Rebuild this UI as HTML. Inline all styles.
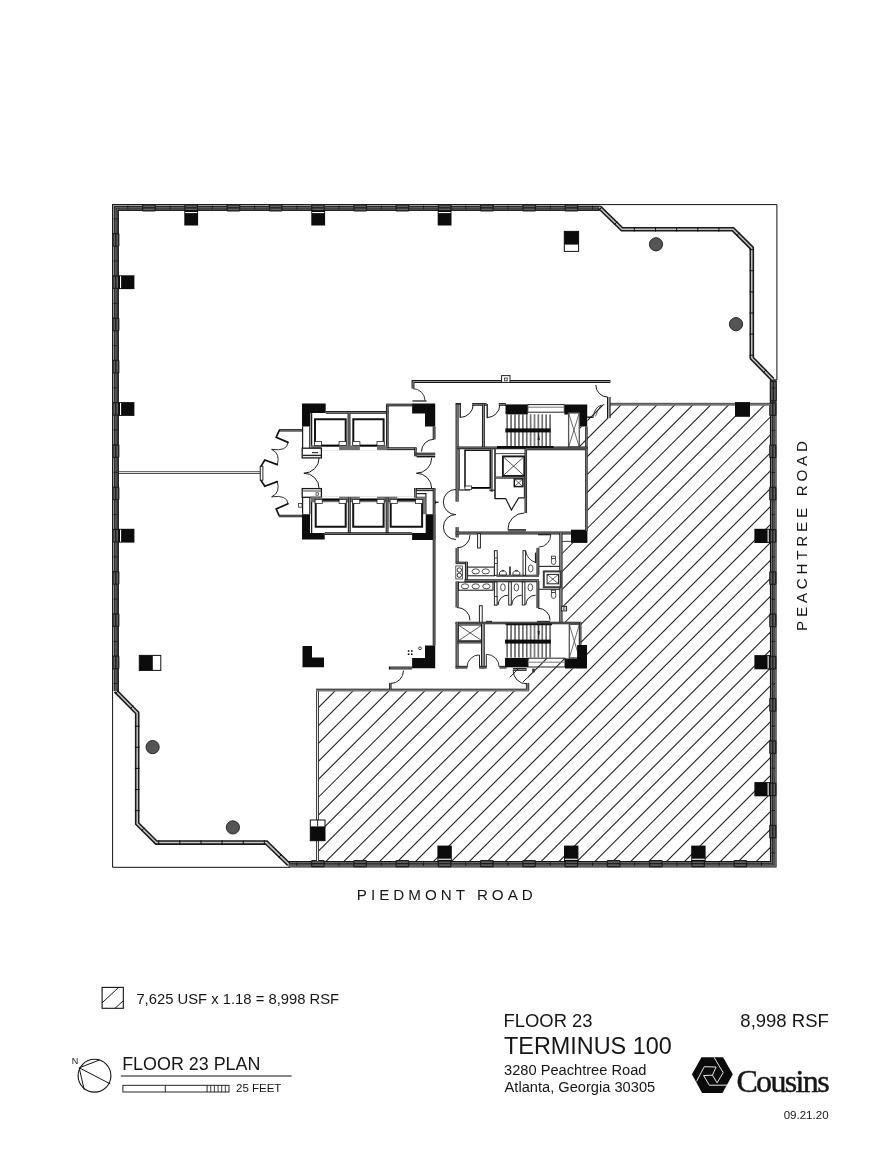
<!DOCTYPE html>
<html><head><meta charset="utf-8"><title>Floor 23 Plan - Terminus 100</title>
<style>
html,body{margin:0;padding:0;background:#fff;}
body{width:889px;height:1154px;overflow:hidden;position:relative;font-family:"Liberation Sans",sans-serif;color:#111;}
svg{position:absolute;left:0;top:0;display:block;will-change:transform;}
.t{position:absolute;white-space:nowrap;line-height:1;color:#141414;}
</style></head><body>
<svg width="889" height="1154" viewBox="0 0 889 1154" shape-rendering="geometricPrecision">
<defs><clipPath id="hc"><polygon points="610.7,404.3 770,404.3 770,861.5 318,861.5 318,690 527.6,690 527.6,658.2 565,658.2 565,668.5 587,668.5 587,645 580.5,645 580.5,622.8 562.4,622.8 562.4,543 587.4,543 587.4,448 580,448 580,426.4 587.4,426.4 587.4,404.3"/></clipPath></defs>
<g clip-path="url(#hc)" stroke="#1a1a1a" stroke-width="1.05">
<line x1="-53.36" y1="900" x2="466.64" y2="380"/>
<line x1="-35.43" y1="900" x2="484.57" y2="380"/>
<line x1="-17.49" y1="900" x2="502.51" y2="380"/>
<line x1="0.44" y1="900" x2="520.44" y2="380"/>
<line x1="18.37" y1="900" x2="538.37" y2="380"/>
<line x1="36.3" y1="900" x2="556.3" y2="380"/>
<line x1="54.24" y1="900" x2="574.24" y2="380"/>
<line x1="72.17" y1="900" x2="592.17" y2="380"/>
<line x1="90.1" y1="900" x2="610.1" y2="380"/>
<line x1="108.04" y1="900" x2="628.04" y2="380"/>
<line x1="125.97" y1="900" x2="645.97" y2="380"/>
<line x1="143.9" y1="900" x2="663.9" y2="380"/>
<line x1="161.84" y1="900" x2="681.84" y2="380"/>
<line x1="179.77" y1="900" x2="699.77" y2="380"/>
<line x1="197.7" y1="900" x2="717.7" y2="380"/>
<line x1="215.63" y1="900" x2="735.63" y2="380"/>
<line x1="233.57" y1="900" x2="753.57" y2="380"/>
<line x1="251.5" y1="900" x2="771.5" y2="380"/>
<line x1="269.43" y1="900" x2="789.43" y2="380"/>
<line x1="287.37" y1="900" x2="807.37" y2="380"/>
<line x1="305.3" y1="900" x2="825.3" y2="380"/>
<line x1="323.23" y1="900" x2="843.23" y2="380"/>
<line x1="341.17" y1="900" x2="861.17" y2="380"/>
<line x1="359.1" y1="900" x2="879.1" y2="380"/>
<line x1="377.03" y1="900" x2="897.03" y2="380"/>
<line x1="394.96" y1="900" x2="914.96" y2="380"/>
<line x1="412.9" y1="900" x2="932.9" y2="380"/>
<line x1="430.83" y1="900" x2="950.83" y2="380"/>
<line x1="448.76" y1="900" x2="968.76" y2="380"/>
<line x1="466.7" y1="900" x2="986.7" y2="380"/>
<line x1="484.63" y1="900" x2="1004.63" y2="380"/>
<line x1="502.56" y1="900" x2="1022.56" y2="380"/>
<line x1="520.5" y1="900" x2="1040.5" y2="380"/>
<line x1="538.43" y1="900" x2="1058.43" y2="380"/>
<line x1="556.36" y1="900" x2="1076.36" y2="380"/>
<line x1="574.3" y1="900" x2="1094.3" y2="380"/>
<line x1="592.23" y1="900" x2="1112.23" y2="380"/>
<line x1="610.16" y1="900" x2="1130.16" y2="380"/>
<line x1="628.09" y1="900" x2="1148.09" y2="380"/>
<line x1="646.03" y1="900" x2="1166.03" y2="380"/>
<line x1="663.96" y1="900" x2="1183.96" y2="380"/>
<line x1="681.89" y1="900" x2="1201.89" y2="380"/>
<line x1="699.83" y1="900" x2="1219.83" y2="380"/>
<line x1="717.76" y1="900" x2="1237.76" y2="380"/>
<line x1="735.69" y1="900" x2="1255.69" y2="380"/>
<line x1="753.62" y1="900" x2="1273.62" y2="380"/>
<line x1="771.56" y1="900" x2="1291.56" y2="380"/>
<line x1="789.49" y1="900" x2="1309.49" y2="380"/>
<line x1="807.42" y1="900" x2="1327.42" y2="380"/>
<line x1="825.36" y1="900" x2="1345.36" y2="380"/>
</g>
<polyline points="599,204.6 776.9,204.6 776.9,380" fill="none" stroke="#111" stroke-width="1" />
<polyline points="112.6,690 112.6,867.3 290,867.3" fill="none" stroke="#111" stroke-width="1" />
<polyline points="115.3,691 115.3,207.4 599.5,207.4" fill="none" stroke="#1c1c1c" stroke-width="6.6" stroke-linecap="butt" stroke-linejoin="miter"/>
<polyline points="115.3,691 115.3,207.4 599.5,207.4" fill="none" stroke="#9c9c9c" stroke-width="4.6" stroke-linecap="butt" stroke-linejoin="miter"/>
<polyline points="115.3,691 115.3,207.4 599.5,207.4" fill="none" stroke="#242424" stroke-width="2.7" stroke-linecap="butt" stroke-linejoin="miter"/>
<polyline points="115.3,691 115.3,207.4 599.5,207.4" fill="none" stroke="#7a7a7a" stroke-width="0.7" stroke-linecap="butt" stroke-linejoin="miter"/>
<polyline points="773.3,379 773.3,864.2 288.6,864.2" fill="none" stroke="#1c1c1c" stroke-width="6.6" stroke-linecap="butt" stroke-linejoin="miter"/>
<polyline points="773.3,379 773.3,864.2 288.6,864.2" fill="none" stroke="#9c9c9c" stroke-width="4.6" stroke-linecap="butt" stroke-linejoin="miter"/>
<polyline points="773.3,379 773.3,864.2 288.6,864.2" fill="none" stroke="#242424" stroke-width="2.7" stroke-linecap="butt" stroke-linejoin="miter"/>
<polyline points="773.3,379 773.3,864.2 288.6,864.2" fill="none" stroke="#7a7a7a" stroke-width="0.7" stroke-linecap="butt" stroke-linejoin="miter"/>
<polyline points="118.1,691 118.1,210.1 599.5,210.1" fill="none" stroke="#141414" stroke-width="1.4" />
<polyline points="770.6,379 770.6,861.6 288.6,861.6" fill="none" stroke="#141414" stroke-width="1.4" />
<rect x="142.05" y="204.3" width="13.8" height="7.2" rx="1.3" fill="#1e1e1e"/>
<rect x="143.35" y="205.5" width="11.2" height="1.7" fill="#5c5c5c"/>
<rect x="143.35" y="208.5" width="11.2" height="1.7" fill="#5c5c5c"/>
<rect x="184.3" y="204.3" width="13.8" height="7.2" rx="1.3" fill="#1e1e1e"/>
<rect x="185.6" y="205.5" width="11.2" height="1.7" fill="#5c5c5c"/>
<rect x="185.6" y="208.5" width="11.2" height="1.7" fill="#5c5c5c"/>
<rect x="226.55" y="204.3" width="13.8" height="7.2" rx="1.3" fill="#1e1e1e"/>
<rect x="227.85" y="205.5" width="11.2" height="1.7" fill="#5c5c5c"/>
<rect x="227.85" y="208.5" width="11.2" height="1.7" fill="#5c5c5c"/>
<rect x="268.8" y="204.3" width="13.8" height="7.2" rx="1.3" fill="#1e1e1e"/>
<rect x="270.1" y="205.5" width="11.2" height="1.7" fill="#5c5c5c"/>
<rect x="270.1" y="208.5" width="11.2" height="1.7" fill="#5c5c5c"/>
<rect x="311.05" y="204.3" width="13.8" height="7.2" rx="1.3" fill="#1e1e1e"/>
<rect x="312.35" y="205.5" width="11.2" height="1.7" fill="#5c5c5c"/>
<rect x="312.35" y="208.5" width="11.2" height="1.7" fill="#5c5c5c"/>
<rect x="353.3" y="204.3" width="13.8" height="7.2" rx="1.3" fill="#1e1e1e"/>
<rect x="354.6" y="205.5" width="11.2" height="1.7" fill="#5c5c5c"/>
<rect x="354.6" y="208.5" width="11.2" height="1.7" fill="#5c5c5c"/>
<rect x="395.55" y="204.3" width="13.8" height="7.2" rx="1.3" fill="#1e1e1e"/>
<rect x="396.85" y="205.5" width="11.2" height="1.7" fill="#5c5c5c"/>
<rect x="396.85" y="208.5" width="11.2" height="1.7" fill="#5c5c5c"/>
<rect x="437.8" y="204.3" width="13.8" height="7.2" rx="1.3" fill="#1e1e1e"/>
<rect x="439.1" y="205.5" width="11.2" height="1.7" fill="#5c5c5c"/>
<rect x="439.1" y="208.5" width="11.2" height="1.7" fill="#5c5c5c"/>
<rect x="480.05" y="204.3" width="13.8" height="7.2" rx="1.3" fill="#1e1e1e"/>
<rect x="481.35" y="205.5" width="11.2" height="1.7" fill="#5c5c5c"/>
<rect x="481.35" y="208.5" width="11.2" height="1.7" fill="#5c5c5c"/>
<rect x="522.3" y="204.3" width="13.8" height="7.2" rx="1.3" fill="#1e1e1e"/>
<rect x="523.6" y="205.5" width="11.2" height="1.7" fill="#5c5c5c"/>
<rect x="523.6" y="208.5" width="11.2" height="1.7" fill="#5c5c5c"/>
<rect x="564.55" y="204.3" width="13.8" height="7.2" rx="1.3" fill="#1e1e1e"/>
<rect x="565.85" y="205.5" width="11.2" height="1.7" fill="#5c5c5c"/>
<rect x="565.85" y="208.5" width="11.2" height="1.7" fill="#5c5c5c"/>
<rect x="112.2" y="233.05" width="7.2" height="13.8" rx="1.3" fill="#1e1e1e"/>
<rect x="113.4" y="234.35" width="1.7" height="11.2" fill="#5c5c5c"/>
<rect x="116.4" y="234.35" width="1.7" height="11.2" fill="#5c5c5c"/>
<rect x="112.2" y="275.3" width="7.2" height="13.8" rx="1.3" fill="#1e1e1e"/>
<rect x="113.4" y="276.6" width="1.7" height="11.2" fill="#5c5c5c"/>
<rect x="116.4" y="276.6" width="1.7" height="11.2" fill="#5c5c5c"/>
<rect x="112.2" y="317.55" width="7.2" height="13.8" rx="1.3" fill="#1e1e1e"/>
<rect x="113.4" y="318.85" width="1.7" height="11.2" fill="#5c5c5c"/>
<rect x="116.4" y="318.85" width="1.7" height="11.2" fill="#5c5c5c"/>
<rect x="112.2" y="359.8" width="7.2" height="13.8" rx="1.3" fill="#1e1e1e"/>
<rect x="113.4" y="361.1" width="1.7" height="11.2" fill="#5c5c5c"/>
<rect x="116.4" y="361.1" width="1.7" height="11.2" fill="#5c5c5c"/>
<rect x="112.2" y="402.05" width="7.2" height="13.8" rx="1.3" fill="#1e1e1e"/>
<rect x="113.4" y="403.35" width="1.7" height="11.2" fill="#5c5c5c"/>
<rect x="116.4" y="403.35" width="1.7" height="11.2" fill="#5c5c5c"/>
<rect x="112.2" y="444.3" width="7.2" height="13.8" rx="1.3" fill="#1e1e1e"/>
<rect x="113.4" y="445.6" width="1.7" height="11.2" fill="#5c5c5c"/>
<rect x="116.4" y="445.6" width="1.7" height="11.2" fill="#5c5c5c"/>
<rect x="112.2" y="486.55" width="7.2" height="13.8" rx="1.3" fill="#1e1e1e"/>
<rect x="113.4" y="487.85" width="1.7" height="11.2" fill="#5c5c5c"/>
<rect x="116.4" y="487.85" width="1.7" height="11.2" fill="#5c5c5c"/>
<rect x="112.2" y="528.8" width="7.2" height="13.8" rx="1.3" fill="#1e1e1e"/>
<rect x="113.4" y="530.1" width="1.7" height="11.2" fill="#5c5c5c"/>
<rect x="116.4" y="530.1" width="1.7" height="11.2" fill="#5c5c5c"/>
<rect x="112.2" y="571.05" width="7.2" height="13.8" rx="1.3" fill="#1e1e1e"/>
<rect x="113.4" y="572.35" width="1.7" height="11.2" fill="#5c5c5c"/>
<rect x="116.4" y="572.35" width="1.7" height="11.2" fill="#5c5c5c"/>
<rect x="112.2" y="613.3" width="7.2" height="13.8" rx="1.3" fill="#1e1e1e"/>
<rect x="113.4" y="614.6" width="1.7" height="11.2" fill="#5c5c5c"/>
<rect x="116.4" y="614.6" width="1.7" height="11.2" fill="#5c5c5c"/>
<rect x="112.2" y="655.55" width="7.2" height="13.8" rx="1.3" fill="#1e1e1e"/>
<rect x="113.4" y="656.85" width="1.7" height="11.2" fill="#5c5c5c"/>
<rect x="116.4" y="656.85" width="1.7" height="11.2" fill="#5c5c5c"/>
<rect x="769.2" y="402.25" width="7.2" height="13.8" rx="1.3" fill="#1e1e1e"/>
<rect x="770.4" y="403.55" width="1.7" height="11.2" fill="#5c5c5c"/>
<rect x="773.4" y="403.55" width="1.7" height="11.2" fill="#5c5c5c"/>
<rect x="769.2" y="444.5" width="7.2" height="13.8" rx="1.3" fill="#1e1e1e"/>
<rect x="770.4" y="445.8" width="1.7" height="11.2" fill="#5c5c5c"/>
<rect x="773.4" y="445.8" width="1.7" height="11.2" fill="#5c5c5c"/>
<rect x="769.2" y="486.75" width="7.2" height="13.8" rx="1.3" fill="#1e1e1e"/>
<rect x="770.4" y="488.05" width="1.7" height="11.2" fill="#5c5c5c"/>
<rect x="773.4" y="488.05" width="1.7" height="11.2" fill="#5c5c5c"/>
<rect x="769.2" y="529" width="7.2" height="13.8" rx="1.3" fill="#1e1e1e"/>
<rect x="770.4" y="530.3" width="1.7" height="11.2" fill="#5c5c5c"/>
<rect x="773.4" y="530.3" width="1.7" height="11.2" fill="#5c5c5c"/>
<rect x="769.2" y="571.25" width="7.2" height="13.8" rx="1.3" fill="#1e1e1e"/>
<rect x="770.4" y="572.55" width="1.7" height="11.2" fill="#5c5c5c"/>
<rect x="773.4" y="572.55" width="1.7" height="11.2" fill="#5c5c5c"/>
<rect x="769.2" y="613.5" width="7.2" height="13.8" rx="1.3" fill="#1e1e1e"/>
<rect x="770.4" y="614.8" width="1.7" height="11.2" fill="#5c5c5c"/>
<rect x="773.4" y="614.8" width="1.7" height="11.2" fill="#5c5c5c"/>
<rect x="769.2" y="655.75" width="7.2" height="13.8" rx="1.3" fill="#1e1e1e"/>
<rect x="770.4" y="657.05" width="1.7" height="11.2" fill="#5c5c5c"/>
<rect x="773.4" y="657.05" width="1.7" height="11.2" fill="#5c5c5c"/>
<rect x="769.2" y="698" width="7.2" height="13.8" rx="1.3" fill="#1e1e1e"/>
<rect x="770.4" y="699.3" width="1.7" height="11.2" fill="#5c5c5c"/>
<rect x="773.4" y="699.3" width="1.7" height="11.2" fill="#5c5c5c"/>
<rect x="769.2" y="740.25" width="7.2" height="13.8" rx="1.3" fill="#1e1e1e"/>
<rect x="770.4" y="741.55" width="1.7" height="11.2" fill="#5c5c5c"/>
<rect x="773.4" y="741.55" width="1.7" height="11.2" fill="#5c5c5c"/>
<rect x="769.2" y="782.5" width="7.2" height="13.8" rx="1.3" fill="#1e1e1e"/>
<rect x="770.4" y="783.8" width="1.7" height="11.2" fill="#5c5c5c"/>
<rect x="773.4" y="783.8" width="1.7" height="11.2" fill="#5c5c5c"/>
<rect x="769.2" y="824.75" width="7.2" height="13.8" rx="1.3" fill="#1e1e1e"/>
<rect x="770.4" y="826.05" width="1.7" height="11.2" fill="#5c5c5c"/>
<rect x="773.4" y="826.05" width="1.7" height="11.2" fill="#5c5c5c"/>
<rect x="310.95" y="860.1" width="13.8" height="7.2" rx="1.3" fill="#1e1e1e"/>
<rect x="312.25" y="861.3" width="11.2" height="1.7" fill="#5c5c5c"/>
<rect x="312.25" y="864.3" width="11.2" height="1.7" fill="#5c5c5c"/>
<rect x="353.2" y="860.1" width="13.8" height="7.2" rx="1.3" fill="#1e1e1e"/>
<rect x="354.5" y="861.3" width="11.2" height="1.7" fill="#5c5c5c"/>
<rect x="354.5" y="864.3" width="11.2" height="1.7" fill="#5c5c5c"/>
<rect x="395.45" y="860.1" width="13.8" height="7.2" rx="1.3" fill="#1e1e1e"/>
<rect x="396.75" y="861.3" width="11.2" height="1.7" fill="#5c5c5c"/>
<rect x="396.75" y="864.3" width="11.2" height="1.7" fill="#5c5c5c"/>
<rect x="437.7" y="860.1" width="13.8" height="7.2" rx="1.3" fill="#1e1e1e"/>
<rect x="439" y="861.3" width="11.2" height="1.7" fill="#5c5c5c"/>
<rect x="439" y="864.3" width="11.2" height="1.7" fill="#5c5c5c"/>
<rect x="479.95" y="860.1" width="13.8" height="7.2" rx="1.3" fill="#1e1e1e"/>
<rect x="481.25" y="861.3" width="11.2" height="1.7" fill="#5c5c5c"/>
<rect x="481.25" y="864.3" width="11.2" height="1.7" fill="#5c5c5c"/>
<rect x="522.2" y="860.1" width="13.8" height="7.2" rx="1.3" fill="#1e1e1e"/>
<rect x="523.5" y="861.3" width="11.2" height="1.7" fill="#5c5c5c"/>
<rect x="523.5" y="864.3" width="11.2" height="1.7" fill="#5c5c5c"/>
<rect x="564.45" y="860.1" width="13.8" height="7.2" rx="1.3" fill="#1e1e1e"/>
<rect x="565.75" y="861.3" width="11.2" height="1.7" fill="#5c5c5c"/>
<rect x="565.75" y="864.3" width="11.2" height="1.7" fill="#5c5c5c"/>
<rect x="606.7" y="860.1" width="13.8" height="7.2" rx="1.3" fill="#1e1e1e"/>
<rect x="608" y="861.3" width="11.2" height="1.7" fill="#5c5c5c"/>
<rect x="608" y="864.3" width="11.2" height="1.7" fill="#5c5c5c"/>
<rect x="648.95" y="860.1" width="13.8" height="7.2" rx="1.3" fill="#1e1e1e"/>
<rect x="650.25" y="861.3" width="11.2" height="1.7" fill="#5c5c5c"/>
<rect x="650.25" y="864.3" width="11.2" height="1.7" fill="#5c5c5c"/>
<rect x="691.2" y="860.1" width="13.8" height="7.2" rx="1.3" fill="#1e1e1e"/>
<rect x="692.5" y="861.3" width="11.2" height="1.7" fill="#5c5c5c"/>
<rect x="692.5" y="864.3" width="11.2" height="1.7" fill="#5c5c5c"/>
<rect x="733.45" y="860.1" width="13.8" height="7.2" rx="1.3" fill="#1e1e1e"/>
<rect x="734.75" y="861.3" width="11.2" height="1.7" fill="#5c5c5c"/>
<rect x="734.75" y="864.3" width="11.2" height="1.7" fill="#5c5c5c"/>
<rect x="769.8" y="380.5" width="7.0" height="21" rx="1.2" fill="#1e1e1e"/>
<rect x="771" y="382" width="1.7" height="18" fill="#5c5c5c"/>
<rect x="774" y="382" width="1.7" height="18" fill="#5c5c5c"/>
<line x1="127.82" y1="205.6" x2="127.82" y2="209.2" stroke="#111" stroke-width="0.8" />
<line x1="113.5" y1="218.82" x2="117.1" y2="218.82" stroke="#111" stroke-width="0.8" />
<line x1="170.07" y1="205.6" x2="170.07" y2="209.2" stroke="#111" stroke-width="0.8" />
<line x1="113.5" y1="261.07" x2="117.1" y2="261.07" stroke="#111" stroke-width="0.8" />
<line x1="771.5" y1="388.02" x2="775.1" y2="388.02" stroke="#111" stroke-width="0.8" />
<line x1="296.73" y1="862.4" x2="296.73" y2="866" stroke="#111" stroke-width="0.8" />
<line x1="212.32" y1="205.6" x2="212.32" y2="209.2" stroke="#111" stroke-width="0.8" />
<line x1="113.5" y1="303.32" x2="117.1" y2="303.32" stroke="#111" stroke-width="0.8" />
<line x1="771.5" y1="430.27" x2="775.1" y2="430.27" stroke="#111" stroke-width="0.8" />
<line x1="338.98" y1="862.4" x2="338.98" y2="866" stroke="#111" stroke-width="0.8" />
<line x1="254.57" y1="205.6" x2="254.57" y2="209.2" stroke="#111" stroke-width="0.8" />
<line x1="113.5" y1="345.57" x2="117.1" y2="345.57" stroke="#111" stroke-width="0.8" />
<line x1="771.5" y1="472.52" x2="775.1" y2="472.52" stroke="#111" stroke-width="0.8" />
<line x1="381.23" y1="862.4" x2="381.23" y2="866" stroke="#111" stroke-width="0.8" />
<line x1="296.82" y1="205.6" x2="296.82" y2="209.2" stroke="#111" stroke-width="0.8" />
<line x1="113.5" y1="387.82" x2="117.1" y2="387.82" stroke="#111" stroke-width="0.8" />
<line x1="771.5" y1="514.77" x2="775.1" y2="514.77" stroke="#111" stroke-width="0.8" />
<line x1="423.48" y1="862.4" x2="423.48" y2="866" stroke="#111" stroke-width="0.8" />
<line x1="339.07" y1="205.6" x2="339.07" y2="209.2" stroke="#111" stroke-width="0.8" />
<line x1="113.5" y1="430.07" x2="117.1" y2="430.07" stroke="#111" stroke-width="0.8" />
<line x1="771.5" y1="557.02" x2="775.1" y2="557.02" stroke="#111" stroke-width="0.8" />
<line x1="465.73" y1="862.4" x2="465.73" y2="866" stroke="#111" stroke-width="0.8" />
<line x1="381.32" y1="205.6" x2="381.32" y2="209.2" stroke="#111" stroke-width="0.8" />
<line x1="113.5" y1="472.32" x2="117.1" y2="472.32" stroke="#111" stroke-width="0.8" />
<line x1="771.5" y1="599.27" x2="775.1" y2="599.27" stroke="#111" stroke-width="0.8" />
<line x1="507.98" y1="862.4" x2="507.98" y2="866" stroke="#111" stroke-width="0.8" />
<line x1="423.57" y1="205.6" x2="423.57" y2="209.2" stroke="#111" stroke-width="0.8" />
<line x1="113.5" y1="514.58" x2="117.1" y2="514.58" stroke="#111" stroke-width="0.8" />
<line x1="771.5" y1="641.52" x2="775.1" y2="641.52" stroke="#111" stroke-width="0.8" />
<line x1="550.23" y1="862.4" x2="550.23" y2="866" stroke="#111" stroke-width="0.8" />
<line x1="465.82" y1="205.6" x2="465.82" y2="209.2" stroke="#111" stroke-width="0.8" />
<line x1="113.5" y1="556.83" x2="117.1" y2="556.83" stroke="#111" stroke-width="0.8" />
<line x1="771.5" y1="683.77" x2="775.1" y2="683.77" stroke="#111" stroke-width="0.8" />
<line x1="592.48" y1="862.4" x2="592.48" y2="866" stroke="#111" stroke-width="0.8" />
<line x1="508.07" y1="205.6" x2="508.07" y2="209.2" stroke="#111" stroke-width="0.8" />
<line x1="113.5" y1="599.08" x2="117.1" y2="599.08" stroke="#111" stroke-width="0.8" />
<line x1="771.5" y1="726.02" x2="775.1" y2="726.02" stroke="#111" stroke-width="0.8" />
<line x1="634.73" y1="862.4" x2="634.73" y2="866" stroke="#111" stroke-width="0.8" />
<line x1="550.33" y1="205.6" x2="550.33" y2="209.2" stroke="#111" stroke-width="0.8" />
<line x1="113.5" y1="641.33" x2="117.1" y2="641.33" stroke="#111" stroke-width="0.8" />
<line x1="771.5" y1="768.27" x2="775.1" y2="768.27" stroke="#111" stroke-width="0.8" />
<line x1="676.98" y1="862.4" x2="676.98" y2="866" stroke="#111" stroke-width="0.8" />
<line x1="592.58" y1="205.6" x2="592.58" y2="209.2" stroke="#111" stroke-width="0.8" />
<line x1="113.5" y1="683.58" x2="117.1" y2="683.58" stroke="#111" stroke-width="0.8" />
<line x1="771.5" y1="810.52" x2="775.1" y2="810.52" stroke="#111" stroke-width="0.8" />
<line x1="719.23" y1="862.4" x2="719.23" y2="866" stroke="#111" stroke-width="0.8" />
<line x1="771.5" y1="852.77" x2="775.1" y2="852.77" stroke="#111" stroke-width="0.8" />
<line x1="761.48" y1="862.4" x2="761.48" y2="866" stroke="#111" stroke-width="0.8" />
<polyline points="599.3,207.2 622.1,229.3 733,229.3 751.8,248 751.8,358 772.8,379.5" fill="none" stroke="#1a1a1a" stroke-width="4.6" stroke-linecap="butt" stroke-linejoin="miter"/>
<polyline points="599.3,207.2 622.1,229.3 733,229.3 751.8,248 751.8,358 772.8,379.5" fill="none" stroke="#c4c4c4" stroke-width="1.5" stroke-linecap="butt" stroke-linejoin="miter"/>
<line x1="598.99" y1="210.1" x2="602.19" y2="206.8" stroke="#111" stroke-width="1" />
<line x1="614.16" y1="224.81" x2="617.36" y2="221.5" stroke="#111" stroke-width="1" />
<line x1="634.4" y1="231.6" x2="634.4" y2="227" stroke="#111" stroke-width="1" />
<line x1="655.52" y1="231.6" x2="655.52" y2="227" stroke="#111" stroke-width="1" />
<line x1="676.65" y1="231.6" x2="676.65" y2="227" stroke="#111" stroke-width="1" />
<line x1="697.77" y1="231.6" x2="697.77" y2="227" stroke="#111" stroke-width="1" />
<line x1="718.9" y1="231.6" x2="718.9" y2="227" stroke="#111" stroke-width="1" />
<line x1="736.36" y1="235.88" x2="739.6" y2="232.62" stroke="#111" stroke-width="1" />
<line x1="749.5" y1="249.63" x2="754.1" y2="249.63" stroke="#111" stroke-width="1" />
<line x1="749.5" y1="270.76" x2="754.1" y2="270.76" stroke="#111" stroke-width="1" />
<line x1="749.5" y1="291.88" x2="754.1" y2="291.88" stroke="#111" stroke-width="1" />
<line x1="749.5" y1="313.01" x2="754.1" y2="313.01" stroke="#111" stroke-width="1" />
<line x1="749.5" y1="334.13" x2="754.1" y2="334.13" stroke="#111" stroke-width="1" />
<line x1="749.5" y1="355.26" x2="754.1" y2="355.26" stroke="#111" stroke-width="1" />
<line x1="763" y1="372.76" x2="766.29" y2="369.54" stroke="#111" stroke-width="1" />
<polyline points="115.5,690.8 137.2,712.9 137.2,823.6 156.4,842.6 266.4,842.6 288.8,864.4" fill="none" stroke="#1a1a1a" stroke-width="4.6" stroke-linecap="butt" stroke-linejoin="miter"/>
<polyline points="115.5,690.8 137.2,712.9 137.2,823.6 156.4,842.6 266.4,842.6 288.8,864.4" fill="none" stroke="#c4c4c4" stroke-width="1.5" stroke-linecap="butt" stroke-linejoin="miter"/>
<line x1="115.26" y1="693.84" x2="118.54" y2="690.62" stroke="#111" stroke-width="1" />
<line x1="130.06" y1="708.91" x2="133.34" y2="705.69" stroke="#111" stroke-width="1" />
<line x1="134.9" y1="726.18" x2="139.5" y2="726.18" stroke="#111" stroke-width="1" />
<line x1="134.9" y1="747.3" x2="139.5" y2="747.3" stroke="#111" stroke-width="1" />
<line x1="134.9" y1="768.43" x2="139.5" y2="768.43" stroke="#111" stroke-width="1" />
<line x1="134.9" y1="789.55" x2="139.5" y2="789.55" stroke="#111" stroke-width="1" />
<line x1="134.9" y1="810.68" x2="139.5" y2="810.68" stroke="#111" stroke-width="1" />
<line x1="141.41" y1="831" x2="144.65" y2="827.73" stroke="#111" stroke-width="1" />
<line x1="158.72" y1="844.9" x2="158.72" y2="840.3" stroke="#111" stroke-width="1" />
<line x1="179.84" y1="844.9" x2="179.84" y2="840.3" stroke="#111" stroke-width="1" />
<line x1="200.97" y1="844.9" x2="200.97" y2="840.3" stroke="#111" stroke-width="1" />
<line x1="222.09" y1="844.9" x2="222.09" y2="840.3" stroke="#111" stroke-width="1" />
<line x1="243.22" y1="844.9" x2="243.22" y2="840.3" stroke="#111" stroke-width="1" />
<line x1="264.34" y1="844.9" x2="264.34" y2="840.3" stroke="#111" stroke-width="1" />
<line x1="278.46" y1="857.55" x2="281.67" y2="854.25" stroke="#111" stroke-width="1" />
<line x1="610" y1="404.4" x2="770" y2="404.4" stroke="#757575" stroke-width="2.5" />
<line x1="610" y1="403.3" x2="770" y2="403.3" stroke="#2a2a2a" stroke-width="0.7" />
<polyline points="317.5,861 317.5,689" fill="none" stroke="#222" stroke-width="2.9" stroke-linecap="butt" stroke-linejoin="miter"/>
<polyline points="317.5,861 317.5,689" fill="none" stroke="#ececec" stroke-width="1.2" stroke-linecap="butt" stroke-linejoin="miter"/>
<polyline points="316,690.2 527.6,690.2 527.6,682.9" fill="none" stroke="#7c7c7c" stroke-width="2.6" />
<polyline points="316,689.1 526.4,689.1 526.4,682.9" fill="none" stroke="#1c1c1c" stroke-width="0.8" />
<line x1="528.8" y1="690.5" x2="528.8" y2="682.9" stroke="#1c1c1c" stroke-width="0.8" />
<line x1="118.6" y1="471.7" x2="260.4" y2="471.7" stroke="#222" stroke-width="0.8" />
<line x1="118.6" y1="473.5" x2="260.4" y2="473.5" stroke="#222" stroke-width="0.8" />
<rect x="184.3" y="210.4" width="13.8" height="15.1" fill="#0c0c0c" stroke="none" stroke-width="0"/>
<rect x="185.2" y="212" width="12" height="1.1" fill="#fff" stroke="none" stroke-width="0"/>
<rect x="311.3" y="210.4" width="13.8" height="15.1" fill="#0c0c0c" stroke="none" stroke-width="0"/>
<rect x="312.2" y="212" width="12" height="1.1" fill="#fff" stroke="none" stroke-width="0"/>
<rect x="437.7" y="210.4" width="13.8" height="15.1" fill="#0c0c0c" stroke="none" stroke-width="0"/>
<rect x="438.6" y="212" width="12" height="1.1" fill="#fff" stroke="none" stroke-width="0"/>
<rect x="437.4" y="845.6" width="14.4" height="15.8" fill="#0c0c0c" stroke="none" stroke-width="0"/>
<rect x="438.3" y="858.7" width="12.6" height="1.1" fill="#fff" stroke="none" stroke-width="0"/>
<rect x="564" y="845.6" width="14.4" height="15.8" fill="#0c0c0c" stroke="none" stroke-width="0"/>
<rect x="564.9" y="858.7" width="12.6" height="1.1" fill="#fff" stroke="none" stroke-width="0"/>
<rect x="691.2" y="845.6" width="14.4" height="15.8" fill="#0c0c0c" stroke="none" stroke-width="0"/>
<rect x="692.1" y="858.7" width="12.6" height="1.1" fill="#fff" stroke="none" stroke-width="0"/>
<rect x="118.4" y="275.3" width="16" height="13.8" fill="#0c0c0c" stroke="none" stroke-width="0"/>
<rect x="120" y="276.2" width="1.1" height="12" fill="#fff" stroke="none" stroke-width="0"/>
<rect x="118.4" y="402.1" width="16" height="13.8" fill="#0c0c0c" stroke="none" stroke-width="0"/>
<rect x="120" y="403" width="1.1" height="12" fill="#fff" stroke="none" stroke-width="0"/>
<rect x="118.4" y="528.8" width="16" height="13.8" fill="#0c0c0c" stroke="none" stroke-width="0"/>
<rect x="120" y="529.7" width="1.1" height="12" fill="#fff" stroke="none" stroke-width="0"/>
<rect x="754.4" y="528.8" width="16" height="14.2" fill="#0c0c0c" stroke="none" stroke-width="0"/>
<rect x="767.6" y="529.7" width="1.1" height="12.4" fill="#fff" stroke="none" stroke-width="0"/>
<rect x="754.4" y="655.1" width="16" height="14.2" fill="#0c0c0c" stroke="none" stroke-width="0"/>
<rect x="767.6" y="656" width="1.1" height="12.4" fill="#fff" stroke="none" stroke-width="0"/>
<rect x="754.4" y="782.1" width="16" height="14.2" fill="#0c0c0c" stroke="none" stroke-width="0"/>
<rect x="767.6" y="783" width="1.1" height="12.4" fill="#fff" stroke="none" stroke-width="0"/>
<rect x="564.3" y="231.4" width="14.3" height="20" fill="#fff" stroke="#111" stroke-width="1"/>
<rect x="564.3" y="231.4" width="14.3" height="13.2" fill="#0c0c0c" stroke="none" stroke-width="0"/>
<rect x="735" y="402.1" width="15" height="14.7" fill="#0c0c0c" stroke="none" stroke-width="0"/>
<rect x="310.3" y="820" width="14.7" height="20.7" fill="#fff" stroke="#111" stroke-width="1"/>
<rect x="310.3" y="826.4" width="14.7" height="14.3" fill="#0c0c0c" stroke="none" stroke-width="0"/>
<line x1="317.6" y1="820" x2="317.6" y2="826.4" stroke="#111" stroke-width="0.9" />
<rect x="139.3" y="655.4" width="21.5" height="15" fill="#fff" stroke="#111" stroke-width="1"/>
<rect x="139.3" y="655.4" width="13.5" height="15" fill="#0c0c0c" stroke="none" stroke-width="0"/>
<rect x="571" y="529.7" width="16.4" height="13.2" fill="#0c0c0c" stroke="none" stroke-width="0"/>
<circle cx="656" cy="244.3" r="6.6" fill="#555" stroke="#1a1a1a" stroke-width="0.9"/>
<circle cx="736" cy="324.2" r="6.6" fill="#555" stroke="#1a1a1a" stroke-width="0.9"/>
<circle cx="152.6" cy="747.1" r="6.6" fill="#555" stroke="#1a1a1a" stroke-width="0.9"/>
<circle cx="232.9" cy="827.4" r="6.6" fill="#555" stroke="#1a1a1a" stroke-width="0.9"/>
<polygon points="302,403.6 325.7,403.6 325.7,412.9 310.4,412.9 310.4,426.4 302,426.4" fill="#0c0c0c" stroke="none" stroke-width="0"/>
<polyline points="325.7,412.4 388.4,412.4" fill="none" stroke="#181818" stroke-width="2.7" stroke-linecap="butt" stroke-linejoin="miter"/>
<polyline points="325.7,412.4 388.4,412.4" fill="none" stroke="#a4a4a4" stroke-width="0.7" stroke-linecap="butt" stroke-linejoin="miter"/>
<polyline points="387.3,404 387.3,449.8" fill="none" stroke="#181818" stroke-width="2.7" stroke-linecap="butt" stroke-linejoin="miter"/>
<polyline points="387.3,404 387.3,449.8" fill="none" stroke="#a4a4a4" stroke-width="0.7" stroke-linecap="butt" stroke-linejoin="miter"/>
<polyline points="386.2,405 412.1,405" fill="none" stroke="#181818" stroke-width="2.7" stroke-linecap="butt" stroke-linejoin="miter"/>
<polyline points="386.2,405 412.1,405" fill="none" stroke="#a4a4a4" stroke-width="0.7" stroke-linecap="butt" stroke-linejoin="miter"/>
<line x1="302.6" y1="426.4" x2="302.6" y2="448" stroke="#1c1c1c" stroke-width="1.2" />
<line x1="309.8" y1="426.4" x2="309.8" y2="448" stroke="#1c1c1c" stroke-width="1.2" />
<line x1="311.6" y1="413" x2="311.6" y2="447" stroke="#1c1c1c" stroke-width="1.3" />
<polyline points="349,413 349,449" fill="none" stroke="#181818" stroke-width="2.9" stroke-linecap="butt" stroke-linejoin="miter"/>
<polyline points="349,413 349,449" fill="none" stroke="#a4a4a4" stroke-width="0.9" stroke-linecap="butt" stroke-linejoin="miter"/>
<rect x="311" y="445.4" width="76.3" height="4.8" fill="#707070" stroke="none" stroke-width="0"/>
<polyline points="315,444.8 315,419.3 345.7,419.3 345.7,444.8" fill="none" stroke="#141414" stroke-width="2" />
<rect x="314.4" y="441.6" width="7.2" height="3.8" fill="#fff" stroke="#222" stroke-width="0.8"/>
<rect x="339.1" y="441.6" width="7.2" height="3.8" fill="#fff" stroke="#222" stroke-width="0.8"/>
<rect x="321.6" y="446.4" width="17.5" height="4" fill="#fff" stroke="none" stroke-width="0"/>
<line x1="321.6" y1="445.6" x2="339.1" y2="445.6" stroke="#000" stroke-width="2" />
<polyline points="353.3,444.8 353.3,419.3 383.6,419.3 383.6,444.8" fill="none" stroke="#141414" stroke-width="2" />
<rect x="352.7" y="441.6" width="7.2" height="3.8" fill="#fff" stroke="#222" stroke-width="0.8"/>
<rect x="377" y="441.6" width="7.2" height="3.8" fill="#fff" stroke="#222" stroke-width="0.8"/>
<rect x="359.9" y="446.4" width="17.1" height="4" fill="#fff" stroke="none" stroke-width="0"/>
<line x1="359.9" y1="445.6" x2="377" y2="445.6" stroke="#000" stroke-width="2" />
<rect x="302.2" y="448.2" width="19.2" height="9.7" fill="#fff" stroke="#1a1a1a" stroke-width="1.3"/>
<line x1="303" y1="455.4" x2="321" y2="455.4" stroke="#222" stroke-width="1.4" />
<line x1="312" y1="452.6" x2="318" y2="452.6" stroke="#333" stroke-width="1.2" />
<polyline points="302,430.3 279.3,430.3" fill="none" stroke="#181818" stroke-width="2.5" stroke-linecap="butt" stroke-linejoin="miter"/>
<polyline points="302,430.3 279.3,430.3" fill="none" stroke="#a4a4a4" stroke-width="0.7" stroke-linecap="butt" stroke-linejoin="miter"/>
<rect x="302.2" y="488.6" width="19.2" height="8.7" fill="#fff" stroke="#1a1a1a" stroke-width="1.3"/>
<line x1="303" y1="491" x2="321" y2="491" stroke="#444" stroke-width="1" />
<rect x="316" y="492.8" width="2.6" height="2.4" fill="#fff" stroke="#222" stroke-width="0.7"/>
<rect x="311" y="496.6" width="114" height="5.6" fill="#707070" stroke="none" stroke-width="0"/>
<polyline points="315.7,502 315.7,526.8 345.7,526.8 345.7,502" fill="none" stroke="#141414" stroke-width="2" />
<rect x="315.1" y="499.4" width="7.2" height="4" fill="#fff" stroke="#222" stroke-width="0.8"/>
<rect x="339.1" y="499.4" width="7.2" height="4" fill="#fff" stroke="#222" stroke-width="0.8"/>
<rect x="322.3" y="496.4" width="16.8" height="2.2" fill="#fff" stroke="none" stroke-width="0"/>
<line x1="322.3" y1="499.6" x2="339.1" y2="499.6" stroke="#000" stroke-width="2" />
<polyline points="353.2,502 353.2,526.8 383.6,526.8 383.6,502" fill="none" stroke="#141414" stroke-width="2" />
<rect x="352.6" y="499.4" width="7.2" height="4" fill="#fff" stroke="#222" stroke-width="0.8"/>
<rect x="377" y="499.4" width="7.2" height="4" fill="#fff" stroke="#222" stroke-width="0.8"/>
<rect x="359.8" y="496.4" width="17.2" height="2.2" fill="#fff" stroke="none" stroke-width="0"/>
<line x1="359.8" y1="499.6" x2="377" y2="499.6" stroke="#000" stroke-width="2" />
<polyline points="390.7,502 390.7,526.8 422.1,526.8 422.1,502" fill="none" stroke="#141414" stroke-width="2" />
<rect x="390.1" y="499.4" width="7.2" height="4" fill="#fff" stroke="#222" stroke-width="0.8"/>
<rect x="415.5" y="499.4" width="7.2" height="4" fill="#fff" stroke="#222" stroke-width="0.8"/>
<rect x="397.3" y="496.4" width="18.2" height="2.2" fill="#fff" stroke="none" stroke-width="0"/>
<line x1="397.3" y1="499.6" x2="415.5" y2="499.6" stroke="#000" stroke-width="2" />
<polyline points="349.3,497.5 349.3,534" fill="none" stroke="#181818" stroke-width="2.9" stroke-linecap="butt" stroke-linejoin="miter"/>
<polyline points="349.3,497.5 349.3,534" fill="none" stroke="#a4a4a4" stroke-width="0.9" stroke-linecap="butt" stroke-linejoin="miter"/>
<polyline points="387.1,497.5 387.1,534" fill="none" stroke="#181818" stroke-width="2.9" stroke-linecap="butt" stroke-linejoin="miter"/>
<polyline points="387.1,497.5 387.1,534" fill="none" stroke="#a4a4a4" stroke-width="0.9" stroke-linecap="butt" stroke-linejoin="miter"/>
<line x1="302.6" y1="497" x2="302.6" y2="514.3" stroke="#1c1c1c" stroke-width="1.2" />
<line x1="309.8" y1="497" x2="309.8" y2="514.3" stroke="#1c1c1c" stroke-width="1.2" />
<line x1="311.6" y1="502" x2="311.6" y2="533" stroke="#1c1c1c" stroke-width="1.3" />
<polygon points="302,514.3 310,514.3 310,532.9 324.7,532.9 324.7,539.4 302,539.4" fill="#0c0c0c" stroke="none" stroke-width="0"/>
<polyline points="324.7,533.7 412.2,533.7" fill="none" stroke="#181818" stroke-width="2.7" stroke-linecap="butt" stroke-linejoin="miter"/>
<polyline points="324.7,533.7 412.2,533.7" fill="none" stroke="#a4a4a4" stroke-width="0.7" stroke-linecap="butt" stroke-linejoin="miter"/>
<polygon points="425.7,514.3 435.2,514.3 435.2,540 412.1,540 412.1,532.9 425.7,532.9" fill="#0c0c0c" stroke="none" stroke-width="0"/>
<polyline points="414.3,489.6 435.2,489.6" fill="none" stroke="#181818" stroke-width="3.1" stroke-linecap="butt" stroke-linejoin="miter"/>
<polyline points="414.3,489.6 435.2,489.6" fill="none" stroke="#a4a4a4" stroke-width="1.1" stroke-linecap="butt" stroke-linejoin="miter"/>
<polyline points="415.5,488.2 415.5,497.6" fill="none" stroke="#181818" stroke-width="2.5" stroke-linecap="butt" stroke-linejoin="miter"/>
<polyline points="415.5,488.2 415.5,497.6" fill="none" stroke="#a4a4a4" stroke-width="0.7" stroke-linecap="butt" stroke-linejoin="miter"/>
<polyline points="416.5,493.6 425.9,493.6 425.9,514.3" fill="none" stroke="#222" stroke-width="1.2" />
<line x1="424" y1="502" x2="424" y2="514.3" stroke="#1c1c1c" stroke-width="1.2" />
<rect x="298.6" y="503.4" width="3.4" height="3.8" fill="#fff" stroke="#222" stroke-width="0.8"/>
<line x1="433" y1="502.3" x2="438.5" y2="502.3" stroke="#111" stroke-width="1.3" />
<line x1="435" y1="500.6" x2="435" y2="504.2" stroke="#111" stroke-width="1.3" />
<polyline points="279.3,430.3 276.2,437.2 288,442.4" fill="none" stroke="#111" stroke-width="1.7" stroke-linejoin="miter" stroke-linecap="round"/>
<polyline points="277.3,464.6 264.8,460 260.9,466.4 260.9,480.2 264.8,486.2 277.3,481.6" fill="none" stroke="#111" stroke-width="1.7" stroke-linejoin="miter" stroke-linecap="round"/>
<polyline points="288,503.8 276.2,509 279.3,516" fill="none" stroke="#111" stroke-width="1.7" stroke-linejoin="miter" stroke-linecap="round"/>
<path d="M288.0,442.4 Q287.5,451.5 271.6,449.4" fill="none" stroke="#1a1a1a" stroke-width="0.9"/>
<path d="M271.6,449.4 Q280.6,453.5 277.3,464.6" fill="none" stroke="#1a1a1a" stroke-width="0.9"/>
<path d="M277.3,481.6 Q280.6,492.7 271.6,496.8" fill="none" stroke="#1a1a1a" stroke-width="0.9"/>
<path d="M271.6,496.8 Q287.5,494.7 288.0,503.8" fill="none" stroke="#1a1a1a" stroke-width="0.9"/>
<polyline points="279.3,516 302,516" fill="none" stroke="#181818" stroke-width="2.5" stroke-linecap="butt" stroke-linejoin="miter"/>
<polyline points="279.3,516 302,516" fill="none" stroke="#a4a4a4" stroke-width="0.7" stroke-linecap="butt" stroke-linejoin="miter"/>
<rect x="260.2" y="466.2" width="2.7" height="14" fill="#fff" stroke="#111" stroke-width="0.9"/>
<path d="M319.1,457.9 A15.3,15.3 0 0 1 303.8,473.2" fill="none" stroke="#1c1c1c" stroke-width="1"/>
<path d="M303.8,473.2 A15.3,15.3 0 0 1 319.1,488.5" fill="none" stroke="#1c1c1c" stroke-width="1"/>
<path d="M431.7,457.9 A15.3,15.3 0 0 1 416.4,473.2" fill="none" stroke="#1c1c1c" stroke-width="1"/>
<path d="M416.4,473.2 A15.3,15.3 0 0 1 431.7,488.5" fill="none" stroke="#1c1c1c" stroke-width="1"/>
<polygon points="412.1,403.4 435.2,403.4 435.2,426.4 425,426.4 425,413.6 412.1,413.6" fill="#0c0c0c" stroke="none" stroke-width="0"/>
<polyline points="434.1,426.4 434.1,439.4" fill="none" stroke="#181818" stroke-width="2.8" stroke-linecap="butt" stroke-linejoin="miter"/>
<polyline points="434.1,426.4 434.1,439.4" fill="none" stroke="#a4a4a4" stroke-width="0.8" stroke-linecap="butt" stroke-linejoin="miter"/>
<path d="M421.5,451.6 A12.3,12.3 0 0 1 433.8,439.3" fill="none" stroke="#1c1c1c" stroke-width="1"/>
<polyline points="387.3,448.7 416.4,448.7" fill="none" stroke="#181818" stroke-width="2.9" stroke-linecap="butt" stroke-linejoin="miter"/>
<polyline points="387.3,448.7 416.4,448.7" fill="none" stroke="#a4a4a4" stroke-width="0.9" stroke-linecap="butt" stroke-linejoin="miter"/>
<polyline points="415.4,447.5 415.4,456.3" fill="none" stroke="#181818" stroke-width="2.5" stroke-linecap="butt" stroke-linejoin="miter"/>
<polyline points="415.4,447.5 415.4,456.3" fill="none" stroke="#a4a4a4" stroke-width="0.7" stroke-linecap="butt" stroke-linejoin="miter"/>
<polyline points="414.3,454 435.2,454" fill="none" stroke="#181818" stroke-width="2.7" stroke-linecap="butt" stroke-linejoin="miter"/>
<polyline points="414.3,454 435.2,454" fill="none" stroke="#a4a4a4" stroke-width="0.7" stroke-linecap="butt" stroke-linejoin="miter"/>
<line x1="416.5" y1="456.6" x2="435.2" y2="456.6" stroke="#111" stroke-width="1.6" />
<path d="M412.9,388.6 A12.1,12.1 0 0 1 425,400.7" fill="none" stroke="#1c1c1c" stroke-width="0.9"/>
<line x1="412.4" y1="401" x2="426.6" y2="401" stroke="#222" stroke-width="1.3" />
<polyline points="434.1,488.4 434.1,645.6" fill="none" stroke="#181818" stroke-width="2.8" stroke-linecap="butt" stroke-linejoin="miter"/>
<polyline points="434.1,488.4 434.1,645.6" fill="none" stroke="#a4a4a4" stroke-width="0.8" stroke-linecap="butt" stroke-linejoin="miter"/>
<polygon points="425,645.4 435.2,645.4 435.2,668.3 412.1,668.3 412.1,658.1 425,658.1" fill="#0c0c0c" stroke="none" stroke-width="0"/>
<polyline points="389.3,668 412.1,668" fill="none" stroke="#181818" stroke-width="2.9" stroke-linecap="butt" stroke-linejoin="miter"/>
<polyline points="389.3,668 412.1,668" fill="none" stroke="#a4a4a4" stroke-width="0.9" stroke-linecap="butt" stroke-linejoin="miter"/>
<line x1="389.5" y1="666.6" x2="389.5" y2="669.4" stroke="#111" stroke-width="1.2" />
<path d="M403.5,670.6 A12.9,12.9 0 0 1 390.6,683.5" fill="none" stroke="#1c1c1c" stroke-width="1"/>
<polyline points="390.3,682.9 390.3,689.5" fill="none" stroke="#181818" stroke-width="2.5" stroke-linecap="butt" stroke-linejoin="miter"/>
<polyline points="390.3,682.9 390.3,689.5" fill="none" stroke="#a4a4a4" stroke-width="0.7" stroke-linecap="butt" stroke-linejoin="miter"/>
<polygon points="302.5,646 312,646 312,657.5 324,657.5 324,667.2 302.5,667.2" fill="#0c0c0c" stroke="none" stroke-width="0"/>
<rect x="407.8" y="650.2" width="1.6" height="1.6" fill="#111"/>
<rect x="407.8" y="653.4" width="1.6" height="1.6" fill="#111"/>
<rect x="411" y="650.2" width="1.6" height="1.6" fill="#111"/>
<rect x="411" y="653.4" width="1.6" height="1.6" fill="#111"/>
<circle cx="420" cy="648.3" r="1.4" fill="#fff" stroke="#111" stroke-width="0.8"/>
<polyline points="413,388.6 413,381.5 610.4,381.5" fill="none" stroke="#181818" stroke-width="2.9" stroke-linecap="butt" stroke-linejoin="miter"/>
<polyline points="413,388.6 413,381.5 610.4,381.5" fill="none" stroke="#a4a4a4" stroke-width="0.9" stroke-linecap="butt" stroke-linejoin="miter"/>
<rect x="501.6" y="375.6" width="8.4" height="6.8" fill="#fff" stroke="#222" stroke-width="1"/>
<rect x="504.6" y="378" width="2.6" height="2.8" fill="#fff" stroke="#222" stroke-width="0.8"/>
<path d="M607.9,397.1 A12.1,12.1 0 0 1 595.8,385" fill="none" stroke="#1c1c1c" stroke-width="1"/>
<polyline points="608.8,397 608.8,418" fill="none" stroke="#181818" stroke-width="3.6" stroke-linecap="butt" stroke-linejoin="miter"/>
<polyline points="608.8,397 608.8,418" fill="none" stroke="#a4a4a4" stroke-width="1.6" stroke-linecap="butt" stroke-linejoin="miter"/>
<line x1="587.2" y1="417.2" x2="593.5" y2="417.2" stroke="#222" stroke-width="1.6" />
<path d="M593.5,416.4 Q594.5,407 601.4,405.2" fill="none" stroke="#222" stroke-width="0.9"/>
<path d="M595.5,416.4 Q597.5,409 601.4,405.2" fill="none" stroke="#222" stroke-width="0.7"/>
<polyline points="457.1,403.4 457.1,501.6" fill="none" stroke="#181818" stroke-width="3.1" stroke-linecap="butt" stroke-linejoin="miter"/>
<polyline points="457.1,403.4 457.1,501.6" fill="none" stroke="#a4a4a4" stroke-width="1.1" stroke-linecap="butt" stroke-linejoin="miter"/>
<line x1="455.7" y1="403.8" x2="461" y2="403.8" stroke="#111" stroke-width="1.4" />
<line x1="460.2" y1="404" x2="460.2" y2="417.8" stroke="#111" stroke-width="1.3" />
<path d="M473.2,404.4 A13,13 0 0 1 460.2,417.4" fill="none" stroke="#1c1c1c" stroke-width="1"/>
<polyline points="472.2,404.4 486.6,404.4" fill="none" stroke="#181818" stroke-width="2.7" stroke-linecap="butt" stroke-linejoin="miter"/>
<polyline points="472.2,404.4 486.6,404.4" fill="none" stroke="#a4a4a4" stroke-width="0.7" stroke-linecap="butt" stroke-linejoin="miter"/>
<polyline points="483.4,404.4 483.4,447.4" fill="none" stroke="#181818" stroke-width="2.9" stroke-linecap="butt" stroke-linejoin="miter"/>
<polyline points="483.4,404.4 483.4,447.4" fill="none" stroke="#a4a4a4" stroke-width="0.9" stroke-linecap="butt" stroke-linejoin="miter"/>
<line x1="487.2" y1="404" x2="487.2" y2="418.2" stroke="#111" stroke-width="1.3" />
<path d="M499.7,405 A12.5,12.5 0 0 1 487.2,417.5" fill="none" stroke="#1c1c1c" stroke-width="1"/>
<polyline points="498.8,404.4 506,404.4" fill="none" stroke="#181818" stroke-width="2.7" stroke-linecap="butt" stroke-linejoin="miter"/>
<polyline points="498.8,404.4 506,404.4" fill="none" stroke="#a4a4a4" stroke-width="0.7" stroke-linecap="butt" stroke-linejoin="miter"/>
<rect x="505.5" y="404.4" width="22.3" height="10" fill="#0c0c0c" stroke="none" stroke-width="0"/>
<polygon points="564.3,404.4 587.2,404.4 587.2,426.4 577.9,426.4 577.9,414.4 564.3,414.4" fill="#0c0c0c" stroke="none" stroke-width="0"/>
<rect x="527.8" y="404.6" width="36.5" height="7.6" fill="#fff" stroke="#222" stroke-width="1"/>
<line x1="527.8" y1="407.2" x2="564.3" y2="407.2" stroke="#777" stroke-width="1" />
<line x1="507.2" y1="414.4" x2="507.2" y2="447" stroke="#3a3a3a" stroke-width="1.5" />
<line x1="507.2" y1="415" x2="507.2" y2="446.4" stroke="#bdbdbd" stroke-width="0.5" />
<line x1="511.1" y1="414.4" x2="511.1" y2="447" stroke="#3a3a3a" stroke-width="1.5" />
<line x1="511.1" y1="415" x2="511.1" y2="446.4" stroke="#bdbdbd" stroke-width="0.5" />
<line x1="515" y1="414.4" x2="515" y2="447" stroke="#3a3a3a" stroke-width="1.5" />
<line x1="515" y1="415" x2="515" y2="446.4" stroke="#bdbdbd" stroke-width="0.5" />
<line x1="518.9" y1="414.4" x2="518.9" y2="447" stroke="#3a3a3a" stroke-width="1.5" />
<line x1="518.9" y1="415" x2="518.9" y2="446.4" stroke="#bdbdbd" stroke-width="0.5" />
<line x1="522.8" y1="414.4" x2="522.8" y2="447" stroke="#3a3a3a" stroke-width="1.5" />
<line x1="522.8" y1="415" x2="522.8" y2="446.4" stroke="#bdbdbd" stroke-width="0.5" />
<line x1="526.7" y1="414.4" x2="526.7" y2="447" stroke="#3a3a3a" stroke-width="1.5" />
<line x1="526.7" y1="415" x2="526.7" y2="446.4" stroke="#bdbdbd" stroke-width="0.5" />
<line x1="530.6" y1="414.4" x2="530.6" y2="447" stroke="#3a3a3a" stroke-width="1.5" />
<line x1="530.6" y1="415" x2="530.6" y2="446.4" stroke="#bdbdbd" stroke-width="0.5" />
<line x1="534.5" y1="414.4" x2="534.5" y2="447" stroke="#3a3a3a" stroke-width="1.5" />
<line x1="534.5" y1="415" x2="534.5" y2="446.4" stroke="#bdbdbd" stroke-width="0.5" />
<line x1="538.4" y1="414.4" x2="538.4" y2="447" stroke="#3a3a3a" stroke-width="1.5" />
<line x1="538.4" y1="415" x2="538.4" y2="446.4" stroke="#bdbdbd" stroke-width="0.5" />
<line x1="542.3" y1="414.4" x2="542.3" y2="447" stroke="#3a3a3a" stroke-width="1.5" />
<line x1="542.3" y1="415" x2="542.3" y2="446.4" stroke="#bdbdbd" stroke-width="0.5" />
<line x1="546.2" y1="414.4" x2="546.2" y2="447" stroke="#3a3a3a" stroke-width="1.5" />
<line x1="546.2" y1="415" x2="546.2" y2="446.4" stroke="#bdbdbd" stroke-width="0.5" />
<line x1="550.1" y1="414.4" x2="550.1" y2="447" stroke="#3a3a3a" stroke-width="1.5" />
<line x1="550.1" y1="415" x2="550.1" y2="446.4" stroke="#bdbdbd" stroke-width="0.5" />
<rect x="505.3" y="428.4" width="45.3" height="4" fill="#0c0c0c" stroke="none" stroke-width="0"/>
<line x1="538.7" y1="432.4" x2="538.7" y2="446.5" stroke="#222" stroke-width="0.8" />
<polygon points="537.5,440 539.9,440 538.7,434" fill="#222" stroke="none" stroke-width="0"/>
<rect x="568.6" y="413" width="10.7" height="34" fill="#fff" stroke="#555" stroke-width="1.3"/>
<line x1="568.6" y1="413" x2="579.3" y2="447" stroke="#444" stroke-width="0.8" />
<line x1="568.6" y1="447" x2="579.3" y2="413" stroke="#444" stroke-width="0.8" />
<polyline points="586.4,426.4 586.4,448.6" fill="none" stroke="#181818" stroke-width="2.5" stroke-linecap="butt" stroke-linejoin="miter"/>
<polyline points="586.4,426.4 586.4,448.6" fill="none" stroke="#a4a4a4" stroke-width="0.7" stroke-linecap="butt" stroke-linejoin="miter"/>
<polyline points="457.1,447.8 587.4,447.8" fill="none" stroke="#181818" stroke-width="2.7" stroke-linecap="butt" stroke-linejoin="miter"/>
<polyline points="457.1,447.8 587.4,447.8" fill="none" stroke="#a4a4a4" stroke-width="0.7" stroke-linecap="butt" stroke-linejoin="miter"/>
<line x1="497" y1="447.2" x2="553.6" y2="447.2" stroke="#0c0c0c" stroke-width="2.4" />
<polyline points="470,490 458.6,490" fill="none" stroke="#222" stroke-width="1.2" />
<line x1="459.4" y1="448.6" x2="459.4" y2="490" stroke="#444" stroke-width="1" />
<polyline points="491.6,448.6 491.6,492" fill="none" stroke="#181818" stroke-width="1.9" stroke-linecap="butt" stroke-linejoin="miter"/>
<polyline points="491.6,448.6 491.6,492" fill="none" stroke="#a4a4a4" stroke-width="0.7" stroke-linecap="butt" stroke-linejoin="miter"/>
<polyline points="495,448.6 495,499" fill="none" stroke="#181818" stroke-width="1.9" stroke-linecap="butt" stroke-linejoin="miter"/>
<polyline points="495,448.6 495,499" fill="none" stroke="#a4a4a4" stroke-width="0.7" stroke-linecap="butt" stroke-linejoin="miter"/>
<polyline points="465,487.4 465,450.2 490.3,450.2 490.3,487.4" fill="none" stroke="#1a1a1a" stroke-width="1.6" />
<line x1="471.4" y1="487.9" x2="490.6" y2="487.9" stroke="#000" stroke-width="1.8" />
<rect x="465" y="486" width="6.4" height="3.6" fill="#fff" stroke="#222" stroke-width="0.8"/>
<line x1="489.3" y1="490.2" x2="495" y2="490.2" stroke="#222" stroke-width="1.2" />
<line x1="495" y1="453.6" x2="525.7" y2="453.6" stroke="#444" stroke-width="1" />
<rect x="502.9" y="456.4" width="21.4" height="19.5" fill="#fff" stroke="#1a1a1a" stroke-width="1.9"/>
<line x1="503.5" y1="457" x2="523.7" y2="475.3" stroke="#222" stroke-width="0.8" />
<line x1="503.5" y1="475.3" x2="523.7" y2="457" stroke="#222" stroke-width="0.8" />
<polyline points="495,477.6 525.7,477.6" fill="none" stroke="#181818" stroke-width="2.1" stroke-linecap="butt" stroke-linejoin="miter"/>
<polyline points="495,477.6 525.7,477.6" fill="none" stroke="#a4a4a4" stroke-width="0.7" stroke-linecap="butt" stroke-linejoin="miter"/>
<rect x="514.3" y="478.9" width="8.6" height="7.7" fill="#fff" stroke="#1a1a1a" stroke-width="1.5"/>
<line x1="515" y1="479.6" x2="522.2" y2="486" stroke="#222" stroke-width="0.7" />
<line x1="515" y1="486" x2="522.2" y2="479.6" stroke="#222" stroke-width="0.7" />
<polyline points="495,498.6 505.7,498.6 511.4,510 518.6,497.9 524.3,497.9" fill="none" stroke="#1a1a1a" stroke-width="1.2" />
<line x1="524.3" y1="477.6" x2="524.3" y2="498" stroke="#333" stroke-width="1" />
<polyline points="525.8,512.9 525.8,448.9 586.4,448.9 586.4,531" fill="none" stroke="#181818" stroke-width="2.5" stroke-linecap="butt" stroke-linejoin="miter"/>
<polyline points="525.8,512.9 525.8,448.9 586.4,448.9 586.4,531" fill="none" stroke="#a4a4a4" stroke-width="0.7" stroke-linecap="butt" stroke-linejoin="miter"/>
<path d="M507.9,529.4 A16.4,16.4 0 0 1 524.3,513" fill="none" stroke="#1c1c1c" stroke-width="1"/>
<polyline points="507.9,530.2 526,530.2" fill="none" stroke="#181818" stroke-width="2.3" stroke-linecap="butt" stroke-linejoin="miter"/>
<polyline points="507.9,530.2 526,530.2" fill="none" stroke="#a4a4a4" stroke-width="0.7" stroke-linecap="butt" stroke-linejoin="miter"/>
<path d="M455.9,514.6 A12.6,12.6 0 0 1 455.9,489.4" fill="none" stroke="#1c1c1c" stroke-width="1"/>
<path d="M455.9,539.5 A12.5,12.5 0 0 1 455.9,514.5" fill="none" stroke="#1c1c1c" stroke-width="1"/>
<polyline points="457.1,527.1 457.1,537.4" fill="none" stroke="#181818" stroke-width="3.1" stroke-linecap="butt" stroke-linejoin="miter"/>
<polyline points="457.1,527.1 457.1,537.4" fill="none" stroke="#a4a4a4" stroke-width="1.1" stroke-linecap="butt" stroke-linejoin="miter"/>
<polyline points="455.7,533 571,533" fill="none" stroke="#181818" stroke-width="2.9" stroke-linecap="butt" stroke-linejoin="miter"/>
<polyline points="455.7,533 571,533" fill="none" stroke="#a4a4a4" stroke-width="0.9" stroke-linecap="butt" stroke-linejoin="miter"/>
<path d="M470,535 A12.9,12.9 0 0 1 457.1,547.9" fill="none" stroke="#1c1c1c" stroke-width="1"/>
<rect x="477.6" y="533.6" width="2.8" height="14.4" fill="#fff" stroke="#222" stroke-width="1"/>
<polyline points="457.1,547.9 457.1,563" fill="none" stroke="#181818" stroke-width="3.1" stroke-linecap="butt" stroke-linejoin="miter"/>
<polyline points="457.1,547.9 457.1,563" fill="none" stroke="#a4a4a4" stroke-width="1.1" stroke-linecap="butt" stroke-linejoin="miter"/>
<polyline points="455.7,562.9 467.6,562.9" fill="none" stroke="#181818" stroke-width="2.5" stroke-linecap="butt" stroke-linejoin="miter"/>
<polyline points="455.7,562.9 467.6,562.9" fill="none" stroke="#a4a4a4" stroke-width="0.7" stroke-linecap="butt" stroke-linejoin="miter"/>
<polyline points="466.4,562 466.4,580.6" fill="none" stroke="#181818" stroke-width="2.9" stroke-linecap="butt" stroke-linejoin="miter"/>
<polyline points="466.4,562 466.4,580.6" fill="none" stroke="#a4a4a4" stroke-width="0.9" stroke-linecap="butt" stroke-linejoin="miter"/>
<rect x="455.8" y="566" width="6.8" height="13" fill="#fff" stroke="#333" stroke-width="0.8"/>
<circle cx="459.3" cy="570" r="2.2" fill="#fff" stroke="#222" stroke-width="0.9"/>
<circle cx="459.3" cy="575.2" r="2.2" fill="#fff" stroke="#222" stroke-width="1"/>
<rect x="467.6" y="567.1" width="26.8" height="8.7" fill="#fff" stroke="#222" stroke-width="1.1"/>
<ellipse cx="475.7" cy="571.4" rx="3.7" ry="2.5" fill="#fff" stroke="#222" stroke-width="0.8"/>
<ellipse cx="485.7" cy="571.4" rx="3.7" ry="2.5" fill="#fff" stroke="#222" stroke-width="0.8"/>
<rect x="494.4" y="550.7" width="2.8" height="24.7" fill="#fff" stroke="#222" stroke-width="1"/>
<rect x="494.4" y="558" width="2.8" height="5.6" fill="#fff" stroke="#222" stroke-width="0.8"/>
<polyline points="496.4,575.8 539,575.8" fill="none" stroke="#181818" stroke-width="2.1" stroke-linecap="butt" stroke-linejoin="miter"/>
<polyline points="496.4,575.8 539,575.8" fill="none" stroke="#a4a4a4" stroke-width="0.7" stroke-linecap="butt" stroke-linejoin="miter"/>
<polyline points="464.4,580.8 539,580.8" fill="none" stroke="#181818" stroke-width="2.9" stroke-linecap="butt" stroke-linejoin="miter"/>
<polyline points="464.4,580.8 539,580.8" fill="none" stroke="#a4a4a4" stroke-width="0.9" stroke-linecap="butt" stroke-linejoin="miter"/>
<line x1="510" y1="566.4" x2="510" y2="575" stroke="#222" stroke-width="1.6" />
<path d="M499.5,575 L499.5,572.6 Q502.9,568 506.3,572.6 L506.3,575 Z" fill="#fff" stroke="#222" stroke-width="0.9"/>
<line x1="501.7" y1="571.2" x2="504.1" y2="571.2" stroke="#222" stroke-width="0.8" />
<path d="M513,575 L513,572.6 Q516.4,568 519.8,572.6 L519.8,575 Z" fill="#fff" stroke="#222" stroke-width="0.9"/>
<line x1="515.2" y1="571.2" x2="517.6" y2="571.2" stroke="#222" stroke-width="0.8" />
<rect x="523" y="550.7" width="2.6" height="24.7" fill="#fff" stroke="#222" stroke-width="1"/>
<path d="M525.6,551 Q527.5,560 535.5,562.4" fill="none" stroke="#222" stroke-width="0.9"/>
<line x1="535.6" y1="552.6" x2="535.6" y2="563" stroke="#222" stroke-width="1.4" />
<ellipse cx="530.7" cy="568.4" rx="2.3" ry="3.5" fill="#fff" stroke="#222" stroke-width="0.8"/>
<polyline points="537.9,547.9 537.9,575" fill="none" stroke="#181818" stroke-width="2.9" stroke-linecap="butt" stroke-linejoin="miter"/>
<polyline points="537.9,547.9 537.9,575" fill="none" stroke="#a4a4a4" stroke-width="0.9" stroke-linecap="butt" stroke-linejoin="miter"/>
<polyline points="537.9,581 537.9,608" fill="none" stroke="#181818" stroke-width="2.9" stroke-linecap="butt" stroke-linejoin="miter"/>
<polyline points="537.9,581 537.9,608" fill="none" stroke="#a4a4a4" stroke-width="0.9" stroke-linecap="butt" stroke-linejoin="miter"/>
<path d="M550.7,535 A12.1,12.1 0 0 1 538.6,547.1" fill="none" stroke="#1c1c1c" stroke-width="0.9"/>
<line x1="538" y1="534.6" x2="551" y2="534.6" stroke="#222" stroke-width="1.4" />
<polyline points="560.9,533 560.9,623" fill="none" stroke="#181818" stroke-width="3.3" stroke-linecap="butt" stroke-linejoin="miter"/>
<polyline points="560.9,533 560.9,623" fill="none" stroke="#a4a4a4" stroke-width="1.3" stroke-linecap="butt" stroke-linejoin="miter"/>
<line x1="562" y1="541.4" x2="571" y2="541.4" stroke="#444" stroke-width="1" />
<ellipse cx="553.6" cy="561.2" rx="2.3" ry="3.4" fill="#fff" stroke="#222" stroke-width="0.8"/>
<rect x="551.6" y="556.2" width="4" height="2.2" fill="#fff" stroke="#222" stroke-width="0.8"/>
<ellipse cx="553.6" cy="595.2" rx="2.3" ry="3.4" fill="#fff" stroke="#222" stroke-width="0.8"/>
<rect x="551.6" y="590.2" width="4" height="2.2" fill="#fff" stroke="#222" stroke-width="0.8"/>
<line x1="539" y1="566.4" x2="560" y2="566.4" stroke="#333" stroke-width="1.2" />
<line x1="539" y1="589.3" x2="560" y2="589.3" stroke="#333" stroke-width="1.2" />
<rect x="543.8" y="571.4" width="16.8" height="15.8" fill="#fff" stroke="#3a3a3a" stroke-width="2"/>
<rect x="547.1" y="574.4" width="11.4" height="9.4" fill="#fff" stroke="#222" stroke-width="1"/>
<line x1="547.1" y1="574.4" x2="558.5" y2="583.8" stroke="#222" stroke-width="0.7" />
<line x1="547.1" y1="583.8" x2="558.5" y2="574.4" stroke="#222" stroke-width="0.7" />
<rect x="561.6" y="606.4" width="5" height="4.5" fill="#fff" stroke="#222" stroke-width="1"/>
<rect x="563.2" y="607.8" width="1.8" height="1.6" fill="#fff" stroke="#222" stroke-width="0.6"/>
<rect x="458.4" y="582.2" width="34.6" height="8" fill="#fff" stroke="#222" stroke-width="1.1"/>
<ellipse cx="465" cy="586.3" rx="3.7" ry="2.5" fill="#fff" stroke="#222" stroke-width="0.8"/>
<ellipse cx="475.7" cy="586.3" rx="3.7" ry="2.5" fill="#fff" stroke="#222" stroke-width="0.8"/>
<ellipse cx="486.4" cy="586.3" rx="3.7" ry="2.5" fill="#fff" stroke="#222" stroke-width="0.8"/>
<polyline points="457.1,581.4 457.1,607.4" fill="none" stroke="#181818" stroke-width="3.1" stroke-linecap="butt" stroke-linejoin="miter"/>
<polyline points="457.1,581.4 457.1,607.4" fill="none" stroke="#a4a4a4" stroke-width="1.1" stroke-linecap="butt" stroke-linejoin="miter"/>
<rect x="494.4" y="582" width="2.6" height="23" fill="#fff" stroke="#222" stroke-width="1"/>
<rect x="508.7" y="582" width="2.6" height="23" fill="#fff" stroke="#222" stroke-width="1"/>
<rect x="522.3" y="582" width="2.6" height="23" fill="#fff" stroke="#222" stroke-width="1"/>
<rect x="494.4" y="596.4" width="2.6" height="8.6" fill="#fff" stroke="#222" stroke-width="0.8"/>
<ellipse cx="502.9" cy="587.4" rx="2.3" ry="3.6" fill="#fff" stroke="#222" stroke-width="0.8"/>
<ellipse cx="516.4" cy="587.4" rx="2.3" ry="3.6" fill="#fff" stroke="#222" stroke-width="0.8"/>
<ellipse cx="530.3" cy="587.4" rx="2.3" ry="3.6" fill="#fff" stroke="#222" stroke-width="0.8"/>
<path d="M498.1,605 A9.8,9.8 0 0 1 507.9,595.2" fill="none" stroke="#1c1c1c" stroke-width="1"/>
<path d="M511.8,605 A9.8,9.8 0 0 1 521.6,595.2" fill="none" stroke="#1c1c1c" stroke-width="1"/>
<path d="M525.8,605 A9.8,9.8 0 0 1 535.6,595.2" fill="none" stroke="#1c1c1c" stroke-width="1"/>
<path d="M457.1,607.5 A12.9,12.9 0 0 1 470,620.4" fill="none" stroke="#1c1c1c" stroke-width="1"/>
<rect x="479.4" y="605.7" width="2.8" height="17.7" fill="#fff" stroke="#222" stroke-width="1"/>
<path d="M537.9,608.2 A12.2,12.2 0 0 1 550.1,620.4" fill="none" stroke="#1c1c1c" stroke-width="1"/>
<polyline points="455.7,623 581,623" fill="none" stroke="#181818" stroke-width="2.7" stroke-linecap="butt" stroke-linejoin="miter"/>
<polyline points="455.7,623 581,623" fill="none" stroke="#a4a4a4" stroke-width="0.7" stroke-linecap="butt" stroke-linejoin="miter"/>
<line x1="486" y1="621.6" x2="492" y2="621.6" stroke="#333" stroke-width="1.6" />
<line x1="537" y1="621.6" x2="550" y2="621.6" stroke="#333" stroke-width="1.6" />
<polyline points="457.1,622 457.1,668.3" fill="none" stroke="#181818" stroke-width="3.1" stroke-linecap="butt" stroke-linejoin="miter"/>
<polyline points="457.1,622 457.1,668.3" fill="none" stroke="#a4a4a4" stroke-width="1.1" stroke-linecap="butt" stroke-linejoin="miter"/>
<rect x="458.4" y="625" width="23.6" height="15.8" fill="#fff" stroke="#333" stroke-width="1.2"/>
<line x1="458.4" y1="625" x2="482" y2="640.8" stroke="#333" stroke-width="0.8" />
<line x1="458.4" y1="640.8" x2="482" y2="625" stroke="#333" stroke-width="0.8" />
<polyline points="457.1,642.2 483,642.2" fill="none" stroke="#181818" stroke-width="2.5" stroke-linecap="butt" stroke-linejoin="miter"/>
<polyline points="457.1,642.2 483,642.2" fill="none" stroke="#a4a4a4" stroke-width="0.7" stroke-linecap="butt" stroke-linejoin="miter"/>
<polyline points="482.9,624 482.9,668.2" fill="none" stroke="#181818" stroke-width="3.7" stroke-linecap="butt" stroke-linejoin="miter"/>
<polyline points="482.9,624 482.9,668.2" fill="none" stroke="#a4a4a4" stroke-width="1.7" stroke-linecap="butt" stroke-linejoin="miter"/>
<polyline points="455.7,667.2 467.3,667.2" fill="none" stroke="#181818" stroke-width="2.7" stroke-linecap="butt" stroke-linejoin="miter"/>
<polyline points="455.7,667.2 467.3,667.2" fill="none" stroke="#a4a4a4" stroke-width="0.7" stroke-linecap="butt" stroke-linejoin="miter"/>
<polyline points="479,667.2 486.6,667.2" fill="none" stroke="#181818" stroke-width="2.7" stroke-linecap="butt" stroke-linejoin="miter"/>
<polyline points="479,667.2 486.6,667.2" fill="none" stroke="#a4a4a4" stroke-width="0.7" stroke-linecap="butt" stroke-linejoin="miter"/>
<polyline points="499.6,667.2 506.4,667.2" fill="none" stroke="#181818" stroke-width="2.7" stroke-linecap="butt" stroke-linejoin="miter"/>
<polyline points="499.6,667.2 506.4,667.2" fill="none" stroke="#a4a4a4" stroke-width="0.7" stroke-linecap="butt" stroke-linejoin="miter"/>
<path d="M467.1,667.1 A12.2,12.2 0 0 1 479.3,654.9" fill="none" stroke="#1c1c1c" stroke-width="0.9"/>
<line x1="479.5" y1="655" x2="479.5" y2="667" stroke="#222" stroke-width="1" />
<path d="M486.4,654.3 A12.8,12.8 0 0 1 499.2,667.1" fill="none" stroke="#1c1c1c" stroke-width="0.9"/>
<line x1="486.3" y1="654.4" x2="486.3" y2="667" stroke="#222" stroke-width="1" />
<line x1="507.2" y1="624.4" x2="507.2" y2="657.4" stroke="#3a3a3a" stroke-width="1.5" />
<line x1="507.2" y1="625" x2="507.2" y2="657" stroke="#bdbdbd" stroke-width="0.5" />
<line x1="511.1" y1="624.4" x2="511.1" y2="657.4" stroke="#3a3a3a" stroke-width="1.5" />
<line x1="511.1" y1="625" x2="511.1" y2="657" stroke="#bdbdbd" stroke-width="0.5" />
<line x1="515" y1="624.4" x2="515" y2="657.4" stroke="#3a3a3a" stroke-width="1.5" />
<line x1="515" y1="625" x2="515" y2="657" stroke="#bdbdbd" stroke-width="0.5" />
<line x1="518.9" y1="624.4" x2="518.9" y2="657.4" stroke="#3a3a3a" stroke-width="1.5" />
<line x1="518.9" y1="625" x2="518.9" y2="657" stroke="#bdbdbd" stroke-width="0.5" />
<line x1="522.8" y1="624.4" x2="522.8" y2="657.4" stroke="#3a3a3a" stroke-width="1.5" />
<line x1="522.8" y1="625" x2="522.8" y2="657" stroke="#bdbdbd" stroke-width="0.5" />
<line x1="526.7" y1="624.4" x2="526.7" y2="657.4" stroke="#3a3a3a" stroke-width="1.5" />
<line x1="526.7" y1="625" x2="526.7" y2="657" stroke="#bdbdbd" stroke-width="0.5" />
<line x1="530.6" y1="624.4" x2="530.6" y2="657.4" stroke="#3a3a3a" stroke-width="1.5" />
<line x1="530.6" y1="625" x2="530.6" y2="657" stroke="#bdbdbd" stroke-width="0.5" />
<line x1="534.5" y1="624.4" x2="534.5" y2="657.4" stroke="#3a3a3a" stroke-width="1.5" />
<line x1="534.5" y1="625" x2="534.5" y2="657" stroke="#bdbdbd" stroke-width="0.5" />
<line x1="538.4" y1="624.4" x2="538.4" y2="657.4" stroke="#3a3a3a" stroke-width="1.5" />
<line x1="538.4" y1="625" x2="538.4" y2="657" stroke="#bdbdbd" stroke-width="0.5" />
<line x1="542.3" y1="624.4" x2="542.3" y2="657.4" stroke="#3a3a3a" stroke-width="1.5" />
<line x1="542.3" y1="625" x2="542.3" y2="657" stroke="#bdbdbd" stroke-width="0.5" />
<line x1="546.2" y1="624.4" x2="546.2" y2="657.4" stroke="#3a3a3a" stroke-width="1.5" />
<line x1="546.2" y1="625" x2="546.2" y2="657" stroke="#bdbdbd" stroke-width="0.5" />
<line x1="550.1" y1="624.4" x2="550.1" y2="657.4" stroke="#3a3a3a" stroke-width="1.5" />
<line x1="550.1" y1="625" x2="550.1" y2="657" stroke="#bdbdbd" stroke-width="0.5" />
<rect x="505" y="639.6" width="45.8" height="4" fill="#0c0c0c" stroke="none" stroke-width="0"/>
<line x1="538.7" y1="625" x2="538.7" y2="639" stroke="#222" stroke-width="0.8" />
<polygon points="537.5,631 539.9,631 538.7,637" fill="#222" stroke="none" stroke-width="0"/>
<line x1="505.6" y1="624.4" x2="552" y2="624.4" stroke="#111" stroke-width="1.8" />
<rect x="505" y="657.9" width="23" height="9.4" fill="#0c0c0c" stroke="none" stroke-width="0"/>
<rect x="528" y="658.2" width="37" height="8.8" fill="none" stroke="#222" stroke-width="1"/>
<line x1="528" y1="662.2" x2="565" y2="662.2" stroke="#777" stroke-width="1" />
<rect x="569.3" y="624.4" width="10.1" height="33.5" fill="#fff" stroke="#555" stroke-width="1.3"/>
<line x1="569.3" y1="624.4" x2="579.4" y2="657.9" stroke="#444" stroke-width="0.8" />
<line x1="569.3" y1="657.9" x2="579.4" y2="624.4" stroke="#444" stroke-width="0.8" />
<polyline points="580.3,622 580.3,645.2" fill="none" stroke="#181818" stroke-width="2.3" stroke-linecap="butt" stroke-linejoin="miter"/>
<polyline points="580.3,622 580.3,645.2" fill="none" stroke="#a4a4a4" stroke-width="0.7" stroke-linecap="butt" stroke-linejoin="miter"/>
<polygon points="577.1,645 587,645 587,668.6 565,668.6 565,658.6 577.1,658.6" fill="#0c0c0c" stroke="none" stroke-width="0"/>
<polyline points="512.9,669.4 526.6,669.4" fill="none" stroke="#181818" stroke-width="2.9" stroke-linecap="butt" stroke-linejoin="miter"/>
<polyline points="512.9,669.4 526.6,669.4" fill="none" stroke="#a4a4a4" stroke-width="0.9" stroke-linecap="butt" stroke-linejoin="miter"/>
<path d="M526.4,683.8 A13.2,13.2 0 0 1 513.2,670.6" fill="none" stroke="#1c1c1c" stroke-width="1"/>
<line x1="509.8" y1="677.3" x2="518.4" y2="668.7" stroke="#1a1a1a" stroke-width="1" />
<line x1="522.9" y1="682.1" x2="527.6" y2="677.4" stroke="#1a1a1a" stroke-width="1" />
<rect x="532.2" y="668.6" width="2.6" height="3.8" fill="#333" stroke="none" stroke-width="0"/>
<text x="356.8" y="900.2" font-family="Liberation Sans, sans-serif" font-size="15.2" letter-spacing="4.0" text-anchor="start" fill="#161616" >PIEDMONT ROAD</text>
<g transform="translate(807.1,630.9) rotate(-90)">
<text x="0" y="0" font-family="Liberation Sans, sans-serif" font-size="15.2" letter-spacing="3.76" text-anchor="start" fill="#161616" >PEACHTREE ROAD</text>
</g>
<rect x="102.1" y="987.4" width="21.2" height="20.9" fill="#fff" stroke="#111" stroke-width="1.1"/>
<line x1="102.1" y1="1002.9" x2="118.6" y2="987.4" stroke="#111" stroke-width="1" />
<line x1="115" y1="1008.3" x2="123.3" y2="1000.7" stroke="#111" stroke-width="1" />
<text x="136.4" y="1003.8" font-family="Liberation Sans, sans-serif" font-size="14.8" text-anchor="start" fill="#161616" >7,625 USF x 1.18 = 8,998 RSF</text>
<circle cx="94.5" cy="1075.7" r="16.4" fill="none" stroke="#111" stroke-width="1.1"/>
<line x1="79.2" y1="1067.8" x2="99.5" y2="1060" stroke="#111" stroke-width="1" />
<line x1="79.2" y1="1067.8" x2="110.3" y2="1083.9" stroke="#111" stroke-width="1" />
<line x1="79.2" y1="1067.8" x2="84.2" y2="1089.8" stroke="#111" stroke-width="1" />
<text x="71.8" y="1064.3" font-family="Liberation Sans, sans-serif" font-size="9" text-anchor="start" fill="#161616" >N</text>
<text x="122.2" y="1070.1" font-family="Liberation Sans, sans-serif" font-size="17.9" text-anchor="start" fill="#161616" >FLOOR 23 PLAN</text>
<line x1="120.8" y1="1076" x2="291.6" y2="1076" stroke="#111" stroke-width="1" />
<rect x="122.9" y="1085.3" width="106.1" height="6.7" fill="#fff" stroke="#111" stroke-width="0.9"/>
<line x1="165.3" y1="1085.3" x2="165.3" y2="1092" stroke="#111" stroke-width="0.9" />
<line x1="207.1" y1="1085.3" x2="207.1" y2="1092" stroke="#111" stroke-width="0.9" />
<line x1="210.75" y1="1085.3" x2="210.75" y2="1092" stroke="#111" stroke-width="0.8" />
<line x1="214.4" y1="1085.3" x2="214.4" y2="1092" stroke="#111" stroke-width="0.8" />
<line x1="218.05" y1="1085.3" x2="218.05" y2="1092" stroke="#111" stroke-width="0.8" />
<line x1="221.7" y1="1085.3" x2="221.7" y2="1092" stroke="#111" stroke-width="0.8" />
<line x1="225.35" y1="1085.3" x2="225.35" y2="1092" stroke="#111" stroke-width="0.8" />
<text x="236" y="1092" font-family="Liberation Sans, sans-serif" font-size="11.5" text-anchor="start" fill="#161616" >25 FEET</text>
<text x="503.6" y="1027.3" font-family="Liberation Sans, sans-serif" font-size="18.4" text-anchor="start" fill="#161616" >FLOOR 23</text>
<text x="504" y="1053.9" font-family="Liberation Sans, sans-serif" font-size="23.4" text-anchor="start" fill="#161616" >TERMINUS 100</text>
<text x="504" y="1075.1" font-family="Liberation Sans, sans-serif" font-size="14.65" text-anchor="start" fill="#161616" >3280 Peachtree Road</text>
<text x="504.6" y="1091.7" font-family="Liberation Sans, sans-serif" font-size="14.65" text-anchor="start" fill="#161616" >Atlanta, Georgia 30305</text>
<text x="828.8" y="1027.2" font-family="Liberation Sans, sans-serif" font-size="18.5" text-anchor="end" fill="#161616" >8,998 RSF</text>
<text x="828.6" y="1118.6" font-family="Liberation Sans, sans-serif" font-size="11.56" text-anchor="end" fill="#161616" >09.21.20</text>
<text x="736.4" y="1092.3" font-family="Liberation Serif, sans-serif" font-size="32" letter-spacing="-1.65" text-anchor="start" fill="#161616" stroke="#161616" stroke-width="0.45">Cousins</text>
<polygon points="691.9,1074.3 701.5,1057.2 723.1,1057.2 732.8,1074.3 722.5,1092.9 702.1,1092.9" fill="#0a0a0a" stroke="none" stroke-width="0"/>
<polyline points="696.63,1081.29 704.23,1066.71 716.07,1067.01 712.43,1075.21" fill="none" stroke="#fff" stroke-width="0.9" stroke-linejoin="miter"/>
<polyline points="712.43,1075.21 703.62,1075.52 709.39,1085.24 727.92,1085.12" fill="none" stroke="#fff" stroke-width="0.9" stroke-linejoin="miter"/>
<polyline points="712.43,1075.21 717.11,1082.81 723.18,1072.6 714.07,1057.41" fill="none" stroke="#fff" stroke-width="0.9" stroke-linejoin="miter"/>
</svg>

</body></html>
